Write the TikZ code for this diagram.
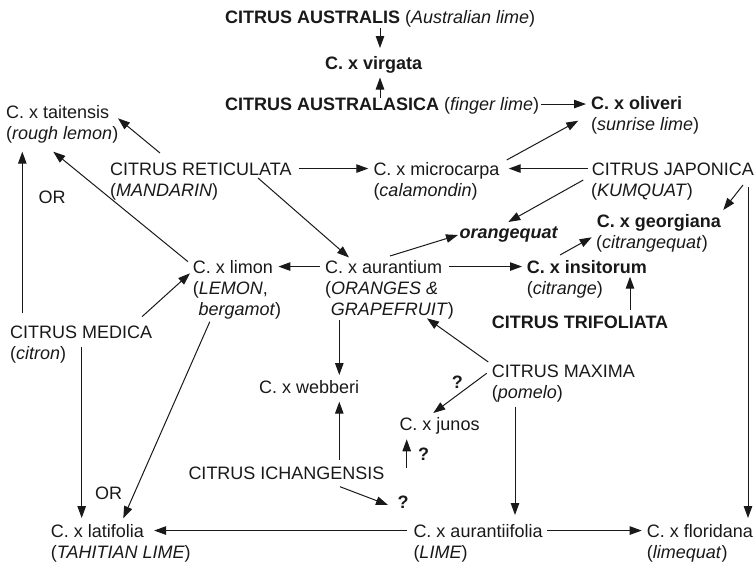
\documentclass[tikz,border=0pt]{standalone}
\usepackage{fontspec}
\setmainfont{Liberation Sans}
\usetikzlibrary{arrows.meta}
\definecolor{ink}{RGB}{25,25,25}
\begin{document}
\begin{tikzpicture}[x=1pt,y=-1pt,
  t/.style={anchor=base west, inner sep=0pt, text height=12.9pt, text depth=0pt,
            font=\fontsize{18}{21}\selectfont, text=ink},
  arr/.style={draw=ink, line width=1pt, -{Triangle[length=12pt,width=8.5pt]}},
]
\useasboundingbox (0,0) rectangle (756,562);

% nodes
\node[t] (austr) at (225,23.3) {\textbf{CITRUS AUSTRALIS} (\textit{Australian lime})};
\node[t] (virgata) at (325,69.5) {\textbf{C. x virgata}};
\node[t] (austral) at (225,110.5) {\textbf{CITRUS AUSTRALASICA} (\textit{finger lime})};
\node[t] (oliveri) at (591,109) {\textbf{C. x oliveri}};
\node[t] (oliveriB) at (591,130) {(\textit{sunrise lime})};
\node[t] (tait) at (6,118.3) {C. x taitensis};
\node[t] (taitB) at (6,139.5) {(\textit{rough lemon})};
\node[t] (ret) at (110,175) {CITRUS RETICULATA};
\node[t] (retB) at (110,196) {(\textit{MANDARIN})};
\node[t] (micro) at (373.3,175) {C. x microcarpa};
\node[t] (microB) at (373.3,196) {(\textit{calamondin})};
\node[t] (japonica) at (591.7,175) {CITRUS JAPONICA};
\node[t] (japonicaB) at (591,196) {(\textit{KUMQUAT})};
\node[t] (orangeq) at (459.3,238) {\textbf{\textit{orangequat}}};
\node[t] (georg) at (596.7,227) {\textbf{C. x georgiana}};
\node[t] (georgB) at (596,248) {(\textit{citrangequat})};
\node[t] (limon) at (192.7,273) {C. x limon};
\node[t] (limonB) at (192.7,294) {(\textit{LEMON},};
\node[t] (limonC) at (198.3,315) {\textit{bergamot})};
\node[t] (aurant) at (325,273) {C. x aurantium};
\node[t] (aurantB) at (325,294) {(\textit{ORANGES \&}};
\node[t] (aurantC) at (330.6,315) {\textit{GRAPEFRUIT})};
\node[t] (insit) at (526.7,273) {\textbf{C. x insitorum}};
\node[t] (insitB) at (526.7,294) {(\textit{citrange})};
\node[t] (trif) at (491.7,328.5) {\textbf{CITRUS TRIFOLIATA}};
\node[t] (medica) at (10,338) {CITRUS MEDICA};
\node[t] (medicaB) at (10,359) {(\textit{citron})};
\node[t] (maxima) at (491.7,377) {CITRUS MAXIMA};
\node[t] (maximaB) at (491.7,398) {(\textit{pomelo})};
\node[t] (webb) at (259,393) {C. x webberi};
\node[t] (junos) at (399.3,430) {C. x junos};
\node[t] (ichang) at (188.3,479) {CITRUS ICHANGENSIS};
\node[t] (latif) at (50.7,537) {C. x latifolia};
\node[t] (latifB) at (50.7,558) {(\textit{TAHITIAN LIME})};
\node[t] (aurif) at (413.3,537) {C. x aurantiifolia};
\node[t] (aurifB) at (413.3,558) {(\textit{LIME})};
\node[t] (florid) at (646.7,537) {C. x floridana};
\node[t] (floridB) at (646.7,558) {(\textit{limequat})};
\node[t] (or1) at (38.3,203.5) {OR};
\node[t] (or2) at (95,499) {OR};
\node[t] (q1) at (451.7,388) {\textbf{?}};
\node[t] (q2) at (418,460) {\textbf{?}};
\node[t] (q3) at (397.5,508) {\textbf{?}};

% connectors
\draw[arr] ([shift={(155,4.2)}]austr.base west) -- ([shift={(55,-21.5)}]virgata.base west);
\draw[arr] ([shift={(155,-12.5)}]austral.base west) -- ([shift={(55,8)}]virgata.base west);
\draw[arr, shorten <=2pt, shorten >=5pt] (austral.east) -- (austral.east -| oliveri.west);
\draw[arr] ([shift={(133.4,-15)}]micro.base west) -- ([shift={(-12.7,11.7)}]oliveri.base west);
\draw[arr, shorten <=3.5pt, shorten >=9pt] (japonica.west) -- (micro.east);
\draw[arr, shorten <=7pt, shorten >=5pt] (ret.east) -- (micro.west);
\draw[arr] ([shift={(50,-22)}]ret.base west) -- ([shift={(112,0)}]tait.base west);
\draw[arr] ([shift={(-4.7,-11.3)}]limon.base west) -- ([shift={(47.3,12.2)}]taitB.base west);
\draw[arr] ([shift={(12.3,-25)}]medica.base west) -- ([shift={(16.3,12.2)}]taitB.base west);
\draw[arr] ([shift={(148,3)}]ret.base west) -- ([shift={(24,-15.5)}]aurant.base west);
\draw[arr, shorten <=5pt, shorten >=5.3pt] (aurant.west) -- (limon.east);
\draw[arr] ([shift={(132,-21.3)}]medica.base west) -- ([shift={(-2.7,0.3)}]limon.base west);
\draw[arr] ([shift={(11.5,6.7)}]limonC.base west) -- ([shift={(72.6,-18.7)}]latif.base west);
\draw[arr] ([shift={(71.7,8.7)}]medica.base west) -- ([shift={(31,-19)}]latif.base west);
\draw[arr] ([shift={(65,-17)}]aurant.base west) -- ([shift={(-1.3,-3)}]orangeq.base west);
\draw[arr] ([shift={(-8.4,5)}]japonica.base west) -- ([shift={(49,-16)}]orangeq.base west);
\draw[arr, shorten <=7pt, shorten >=4.7pt] (aurant.east) -- (insit.west);
\draw[arr] ([shift={(33.3,-18)}]insit.base west) -- ([shift={(-5,10.3)}]georg.base west);
\draw[arr] ([shift={(151.3,10)}]japonica.base west) -- ([shift={(126.6,-17)}]georg.base west);
\draw[arr] ([shift={(156.3,12)}]japonica.base west) -- ([shift={(101.3,-19)}]florid.base west);
\draw[arr] ([shift={(138.3,-18.5)}]trif.base west) -- ([shift={(103.3,3.7)}]insit.base west);
\draw[arr] ([shift={(-3.4,-15)}]maxima.base west) -- ([shift={(102,45.3)}]aurant.base west);
\draw[arr] ([shift={(-5,-3.7)}]maxima.base west) -- ([shift={(34,-17)}]junos.base west);
\draw[arr] ([shift={(14.3,47)}]aurant.base west) -- ([shift={(80.3,-18)}]webb.base west);
\draw[arr] ([shift={(151,-19)}]ichang.base west) -- ([shift={(80.3,8.7)}]webb.base west);
\draw[arr] ([shift={(151.7,7.7)}]ichang.base west) -- ([shift={(-9.5,-3)}]q3.base west);
\draw[arr] ([shift={(218.4,-10.7)}]ichang.base west) -- ([shift={(7.4,9.3)}]junos.base west);
\draw[arr] ([shift={(23.3,29.7)}]maxima.base west) -- ([shift={(101.7,-22)}]aurif.base west);
\draw[arr, shorten <=4.7pt, shorten >=5pt] (aurif.east) -- (florid.west);
\draw[arr, shorten <=6.6pt, shorten >=10pt] (aurif.west) -- (latif.east);
\end{tikzpicture}
\end{document}
